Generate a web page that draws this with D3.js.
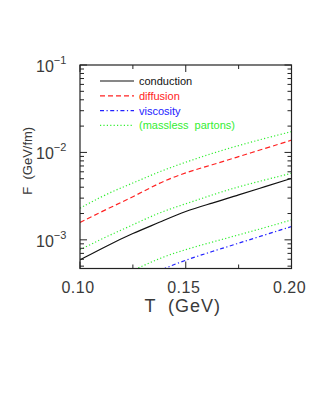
<!DOCTYPE html>
<meta charset="utf-8">
<style>
body { margin: 0; background: #fff; }
text { font-family: "Liberation Sans", Arial, sans-serif; fill: #3a3a3a; }
</style>
<svg width="327" height="409"></svg>
<script src="https://cdn.jsdelivr.net/npm/d3@7"></script>
<script>

// temperature grid (GeV)
var temps = [0.10, 0.1125, 0.125, 0.1375, 0.15, 0.1625, 0.175, 0.1875, 0.20];

// F (GeV/fm)
var conduction  = [5.9e-4, 8.5e-4, 1.19e-3, 1.58e-3, 2.15e-3, 2.62e-3, 3.27e-3, 4.06e-3, 5.05e-3];
var diffusion   = [1.58e-3, 2.24e-3, 3.08e-3, 4.5e-3, 5.9e-3, 7.2e-3, 8.95e-3, 1.11e-2, 1.38e-2];
var viscosity   = [1.58e-4, 2.24e-4, 3.09e-4, 4.47e-4, 5.9e-4, 7.35e-4, 9.16e-4, 1.14e-3, 1.42e-3];
var masslessHi  = [2.30e-3, 3.36e-3, 4.45e-3, 6.04e-3, 7.74e-3, 9.79e-3, 1.20e-2, 1.45e-2, 1.73e-2];
var masslessMid = [7.7e-4, 1.09e-3, 1.48e-3, 2.06e-3, 2.58e-3, 3.27e-3, 4.06e-3, 4.85e-3, 5.78e-3];
var masslessLo  = [2.30e-4, 3.36e-4, 4.45e-4, 6.18e-4, 7.78e-4, 9.42e-4, 1.14e-3, 1.38e-3, 1.69e-3];

var xTicks = [0.10, 0.15, 0.20];
var xMinor = [0.125, 0.175];
var yTicks = [1e-3, 1e-2, 1e-1];
var yExp = ["\u22123", "\u22122", "\u22121"];

var legendNames = ["conduction", "diffusion", "viscosity", "(massless  partons)"];

var svg = d3.select("svg"),
    margin = {top: 65, right: 35.5, bottom: 140.5, left: 80},
    width = +svg.attr("width") - margin.left - margin.right,
    height = +svg.attr("height") - margin.top - margin.bottom;

var x = d3.scaleLinear().domain([0.10, 0.20]).range([0, width]);
var y = d3.scaleLog().domain([4.7e-4, 0.1]).range([height, 0]);

var g = svg.append("g")
    .attr("transform", "translate(" + margin.left + "," + margin.top + ")");

g.append("clipPath").attr("id", "clip")
  .append("rect").attr("width", width).attr("height", height);

var styles = {
  black: {color: "#111", dash: null},
  red:   {color: "#ff2222", dash: "5,3"},
  blue:  {color: "#2222ff", dash: "4,2.5,1.2,2.5"},
  green: {color: "#33ee33", dash: "1.2,2.2"}
};

var series = [
  {v: masslessHi, s: styles.green},
  {v: masslessMid, s: styles.green},
  {v: masslessLo, s: styles.green},
  {v: diffusion, s: styles.red},
  {v: viscosity, s: styles.blue},
  {v: conduction, s: styles.black}
];

var line = d3.line()
    .x(function(d, i) { return x(temps[i]); })
    .y(function(d) { return y(d); })
    .curve(d3.curveBasis);

g.append("g").attr("clip-path", "url(#clip)")
  .selectAll("path").data(series).enter().append("path")
    .attr("d", function(d) { return line(d.v); })
    .attr("fill", "none")
    .attr("stroke", function(d) { return d.s.color; })
    .attr("stroke-width", 1.2)
    .attr("stroke-dasharray", function(d) { return d.s.dash; });

// ticks on all four sides, pointing inward
var major = 7, minor = 4;
var ax = g.append("g").attr("stroke", "#222").attr("stroke-width", 1);

xTicks.concat(xMinor).forEach(function(t) {
  var len = xMinor.indexOf(t) >= 0 ? minor : major;
  ax.append("line").attr("x1", x(t)).attr("x2", x(t)).attr("y1", height).attr("y2", height - len);
  ax.append("line").attr("x1", x(t)).attr("x2", x(t)).attr("y1", 0).attr("y2", len);
});

var yAll = [];
[1e-4, 1e-3, 1e-2].forEach(function(dec) {
  for (var k = 1; k < 10; k++) yAll.push(k * dec);
});
yAll.push(0.1);
yAll.forEach(function(t) {
  if (t < y.domain()[0] * 0.999) return;
  var isMajor = yTicks.some(function(m) { return Math.abs(m - t) / m < 1e-6; });
  var len = isMajor ? major : minor;
  ax.append("line").attr("x1", 0).attr("x2", len).attr("y1", y(t)).attr("y2", y(t));
  ax.append("line").attr("x1", width).attr("x2", width - len).attr("y1", y(t)).attr("y2", y(t));
});

g.append("rect")
  .attr("width", width).attr("height", height)
  .attr("fill", "none").attr("stroke", "#222").attr("stroke-width", 1.2);

// x tick labels
g.selectAll(".xl").data(xTicks).enter().append("text")
  .attr("x", function(d) { return x(d) - 2; })
  .attr("y", height + 24)
  .attr("text-anchor", "middle")
  .style("font-size", "16px")
  .style("letter-spacing", "0.5px")
  .text(function(d) { return d.toFixed(2); });

// y tick labels 10^n
yTicks.forEach(function(t, i) {
  var lab = g.append("text").attr("y", y(t) + 7).style("font-size", "16px");
  lab.append("tspan").attr("x", -44).text("10");
  lab.append("tspan").attr("dy", -8).style("font-size", "11px").text(yExp[i]);
});

// axis titles
g.append("text")
  .attr("x", width / 2 - 3)
  .attr("y", height + 43)
  .attr("text-anchor", "middle")
  .style("font-size", "18px")
  .style("letter-spacing", "1px")
  .attr("xml:space", "preserve")
  .text("T  (GeV)");

g.append("text")
  .attr("transform", "translate(-48," + (height / 2 - 6) + ") rotate(-90)")
  .attr("text-anchor", "middle")
  .style("font-size", "13px")
  .attr("xml:space", "preserve")
  .text("F  (GeV/fm)");

// legend
var legStyles = [styles.black, styles.red, styles.blue, styles.green];
var leg = g.append("g").attr("transform", "translate(20,16)");
legendNames.forEach(function(name, i) {
  var row = leg.append("g").attr("transform", "translate(0," + (i * 14.8) + ")");
  row.append("line")
    .attr("x1", 0).attr("x2", 34).attr("y1", 0).attr("y2", 0)
    .attr("stroke", legStyles[i].color).attr("stroke-width", 1.2)
    .attr("stroke-dasharray", legStyles[i].dash);
  row.append("text")
    .attr("x", 39).attr("y", 4)
    .attr("xml:space", "preserve")
    .style("font-size", "11px")
    .style("fill", i === 0 ? "#111" : legStyles[i].color)
    .text(name);
});

</script>
